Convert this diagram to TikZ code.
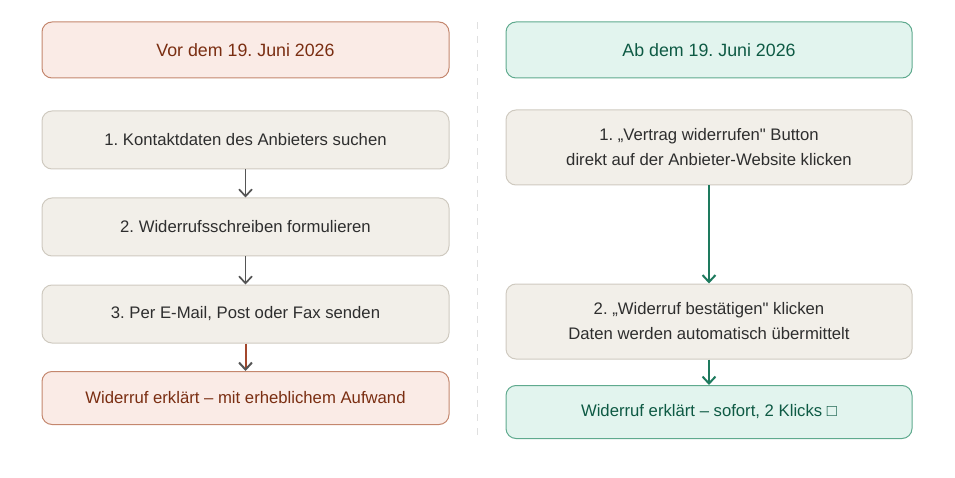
\documentclass[tikz,border=0pt]{standalone}
\usepackage{fontspec}
\setmainfont{Liberation Sans}
\usetikzlibrary{arrows.meta}
\frenchspacing

\definecolor{oldfill}{HTML}{FAEBE6}
\definecolor{oldedge}{HTML}{C4876E}
\definecolor{oldtext}{HTML}{7A2E12}
\definecolor{newfill}{HTML}{E2F4EE}
\definecolor{newedge}{HTML}{5FAA8E}
\definecolor{newtext}{HTML}{0E5A44}
\definecolor{stepfill}{HTML}{F2EFE9}
\definecolor{stepedge}{HTML}{CFCAC0}
\definecolor{steptext}{HTML}{2E2E2E}
\definecolor{arrowgray}{HTML}{555555}
\definecolor{arrowred}{HTML}{A3472C}
\definecolor{arrowgreen}{HTML}{1E7A5E}

\tikzset{
  box/.style={draw, rounded corners=10pt, line width=1pt, minimum width=407pt,
    inner sep=0pt, align=center, font=\fontsize{16.7}{25}\selectfont},
  stepbox/.style={box, fill=stepfill, draw=stepedge, text=steptext},
  oldbox/.style={box, fill=oldfill, draw=oldedge, text=oldtext},
  newbox/.style={box, fill=newfill, draw=newedge, text=newtext},
  headfont/.style={font=\fontsize{17.8}{25}\selectfont},
  tip/.style={-{Straight Barb[length=7pt,width=13pt,#1]}},
}

\begin{document}
\begin{tikzpicture}[x=1pt, y=-1pt]
  \useasboundingbox (0,0) rectangle (955,478);

  % divider
  \draw[black!12, line width=1pt, dash pattern=on 7pt off 7pt] (477,22) -- (477,442);

  % before
  \node[oldbox, headfont, minimum height=56pt] (oldhead) at (245.5,50) {Vor dem 19. Juni 2026};
  \node[stepbox, minimum height=58pt] (old1) at (245.5,140) {1. Kontaktdaten des Anbieters suchen};
  \node[stepbox, minimum height=58pt] (old2) at (245.5,227) {2. Widerrufsschreiben formulieren};
  \node[stepbox, minimum height=58pt] (old3) at (245.5,314) {3. Per E-Mail, Post oder Fax senden};
  \node[oldbox, minimum height=53pt] (oldend) at (245.5,398) {Widerruf erklärt – mit erheblichem Aufwand};

  \draw[tip, line width=1.7pt, arrowgray] (old1) -- (old2);
  \draw[tip, line width=1.7pt, arrowgray] (old2) -- (old3);
  \draw[tip={color=arrowgray}, line width=2pt, arrowred] (old3) -- (oldend);

  % after
  \node[newbox, headfont, minimum width=406pt, minimum height=56pt] (newhead) at (709,50) {Ab dem 19. Juni 2026};
  \node[stepbox, minimum width=406pt, minimum height=75pt] (new1) at (709,147.5)
    {1. „Vertrag widerrufen\textquotedbl{} Button\\direkt auf der Anbieter-Website klicken};
  \node[stepbox, minimum width=406pt, minimum height=75pt] (new2) at (709,321.5)
    {2. „Widerruf bestätigen\textquotedbl{} klicken\\Daten werden automatisch übermittelt};
  \node[newbox, minimum width=406pt, minimum height=53pt] (newend) at (709,412) {Widerruf erklärt – sofort, 2 Klicks □};

  \draw[tip, line width=2pt, arrowgreen] (new1) -- (new2);
  \draw[tip, line width=2pt, arrowgreen] (new2) -- (newend);
\end{tikzpicture}
\end{document}
